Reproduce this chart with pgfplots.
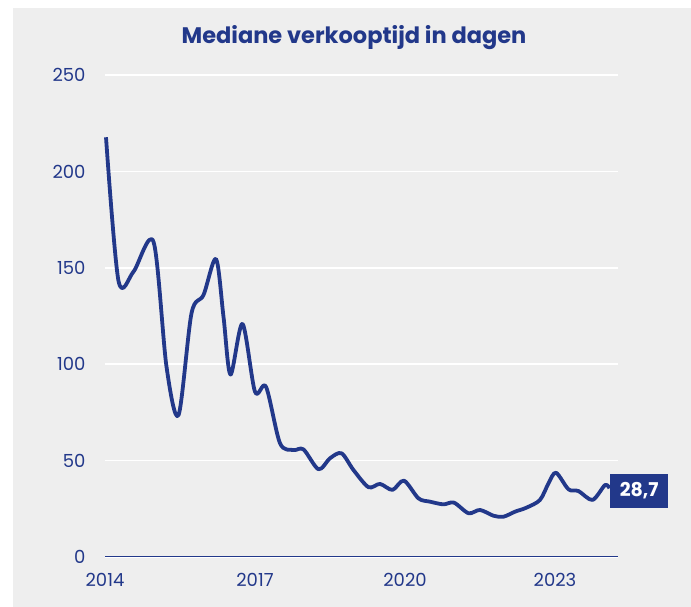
\documentclass[border=0pt]{standalone}
\usepackage{fontspec}
\setmainfont{Poppins}
\usepackage{pgfplots}
\pgfplotsset{compat=1.18}
\definecolor{navy}{HTML}{22388A}
\definecolor{bg}{HTML}{EEEEEE}
\begin{document}
\begin{tikzpicture}
\fill[white] (0pt,0pt) rectangle (691pt,607pt);
\useasboundingbox (0pt,0pt) rectangle (691pt,607pt);
\fill[bg] (13pt,0pt) rectangle (691pt,599pt);
\node[font=\bfseries\fontsize{22.5}{26}\selectfont, text=navy] at (354pt,569pt) {Mediane verkooptijd in dagen};
\begin{axis}[
  at={(105pt,50pt)}, anchor=south west,
  scale only axis, width=513pt, height=482pt,
  xmin=2014, xmax=2024.26, ymin=0, ymax=250,
  axis x line*=bottom, axis y line*=left,
  separate axis lines,
  x axis line style={draw=navy, line width=1pt, -},
  y axis line style={draw=none},
  xtick={2014,2017,2020,2023},
  ytick={0,50,100,150,200,250},
  major tick length=0pt,
  ymajorgrids, grid style={white, line width=1.6pt},
  tick label style={font=\fontsize{18}{21}\selectfont, text=navy},
  /pgf/number format/assume math mode=true,
  xticklabel style={/pgf/number format/1000 sep={}, yshift=-13pt},
  yticklabel style={xshift=-16pt},
  clip=false,
]
\addplot[navy, line width=3.8pt, smooth, tension=0.5, line join=round] coordinates {
(2014.02,217.7) (2014.27,143.2) (2014.57,148) (2014.97,163.5) (2015.23,98.7)
(2015.47,73.6) (2015.73,126.4) (2015.97,135.9) (2016.22,154.6) (2016.37,124.6)
(2016.51,94.6) (2016.75,120.9) (2017.0,85.7) (2017.22,88.3) (2017.5,59)
(2017.77,55.5) (2017.97,55.8) (2018.27,45.5) (2018.5,51.2) (2018.73,53.8)
(2018.97,45.1) (2019.27,36.2) (2019.5,37.9) (2019.75,34.8) (2019.98,39.6)
(2020.27,30.4) (2020.5,28.7) (2020.77,27.3) (2020.98,28.2) (2021.27,22.7)
(2021.5,24.4) (2021.77,21.4) (2021.97,20.9) (2022.2,23.5) (2022.43,25.6)
(2022.7,29.6) (2022.87,38.2) (2023.02,43.7) (2023.27,35.1) (2023.47,34.2)
(2023.75,29.6) (2024.0,37.3) (2024.09,35.6)
};
\node[fill=navy, text=white, font=\bfseries\fontsize{19}{22}\selectfont, anchor=west, minimum height=34pt, minimum width=58pt, inner sep=2pt] at (axis cs:2024.1,34.2) {28,7};
\end{axis}
\end{tikzpicture}
\end{document}
